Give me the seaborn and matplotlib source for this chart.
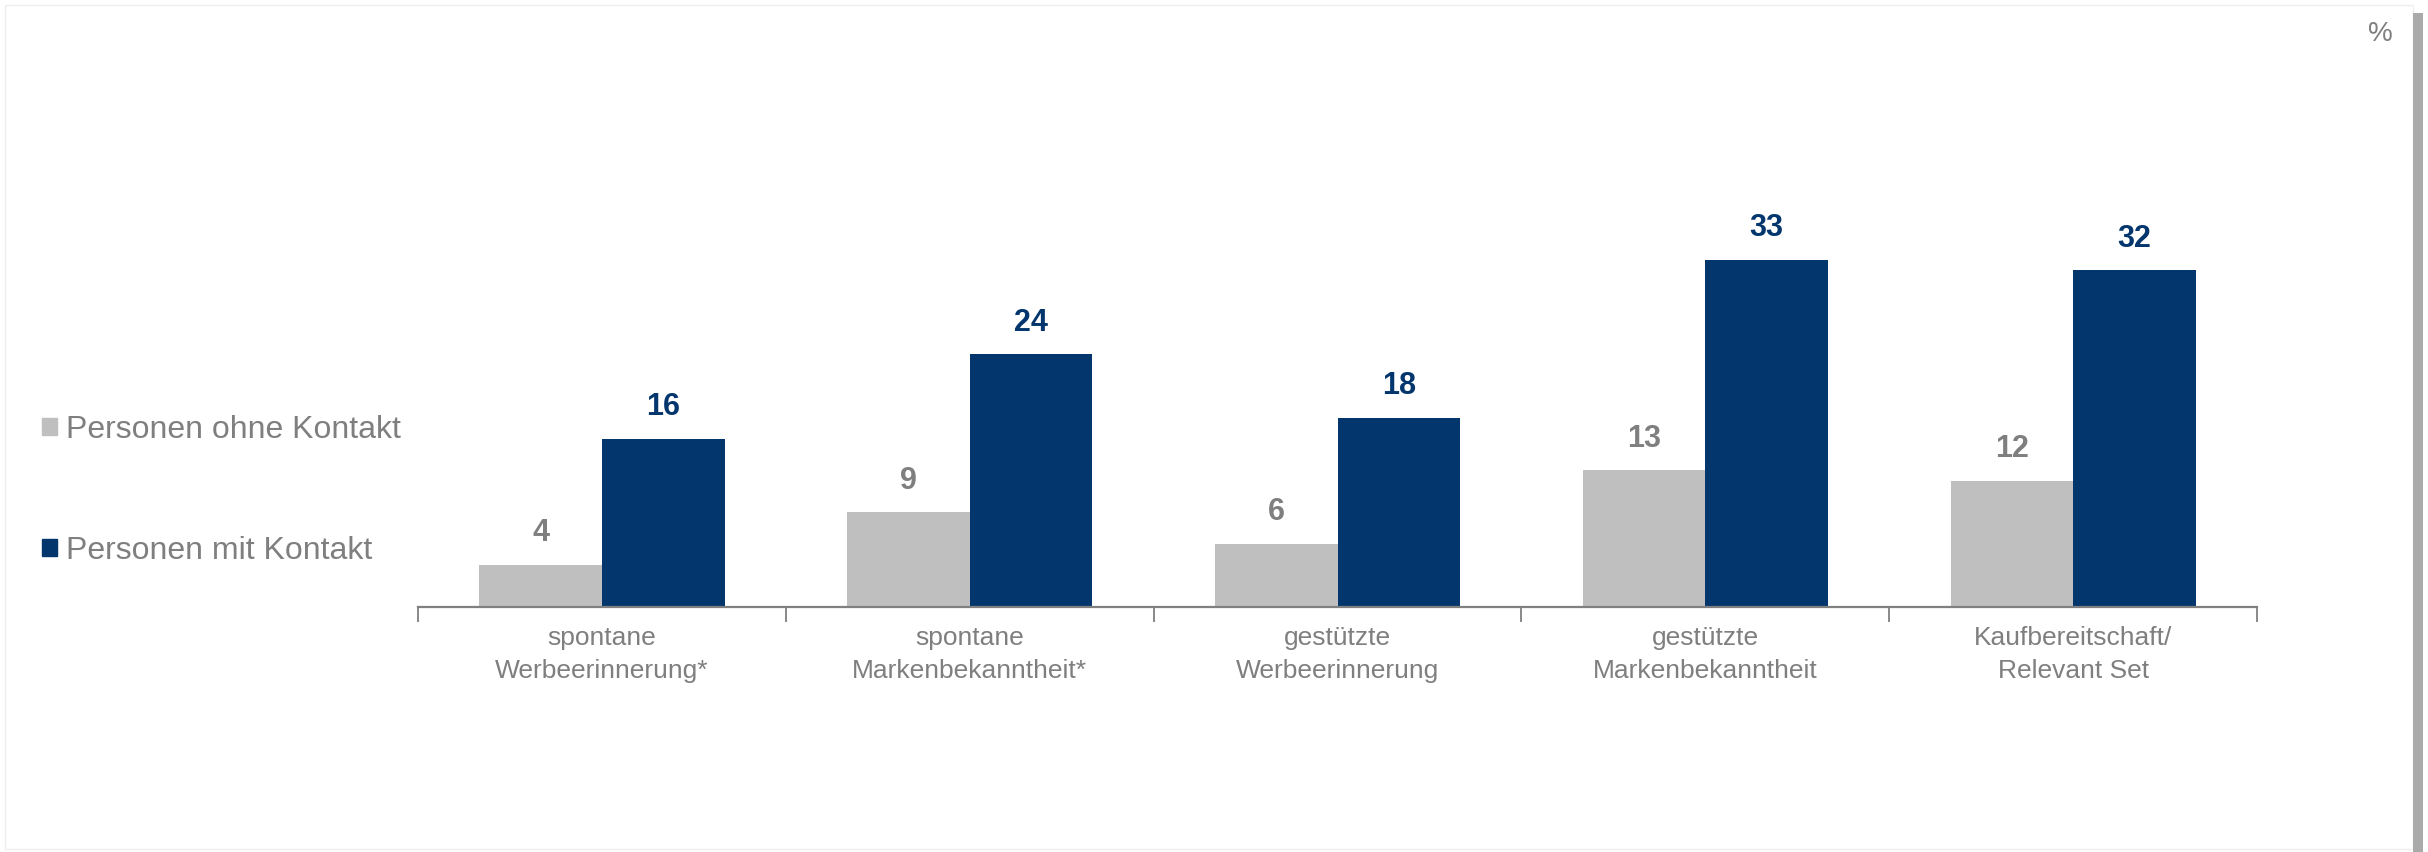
import pandas as pd
import matplotlib.pyplot as plt
import seaborn as sns
from matplotlib.patches import Rectangle

# chart values
kategorien = ['spontane\nWerbeerinnerung*', 'spontane\nMarkenbekanntheit*',
              'gestützte\nWerbeerinnerung', 'gestützte\nMarkenbekanntheit',
              'Kaufbereitschaft/\nRelevant Set']
ohne_kontakt = [4, 9, 6, 13, 12]
mit_kontakt = [16, 24, 18, 33, 32]
gruppen = ['Personen ohne Kontakt', 'Personen mit Kontakt']

grau = '#BFBFBF'
blau = '#03366D'
text_grau = '#7F7F7F'

df = pd.DataFrame({
    'Kategorie': kategorien * 2,
    'Wert': ohne_kontakt + mit_kontakt,
    'Gruppe': [gruppen[0]] * len(kategorien) + [gruppen[1]] * len(kategorien),
})

sns.set_style('white')
plt.rcParams['font.family'] = ['Liberation Sans', 'DejaVu Sans']

fig = plt.figure(figsize=(24.28, 8.52), dpi=100)
ax = fig.add_axes([0.1722, 0.2876, 0.7574, 0.6174])

sns.barplot(data=df, x='Kategorie', y='Wert', hue='Gruppe', order=kategorien,
            hue_order=gruppen, palette=[grau, blau], width=0.667, gap=0,
            saturation=1, linewidth=0, ax=ax, legend=False)

# value labels
for cont, farbe in zip(ax.containers, [text_grau, blau]):
    ax.bar_label(cont, fmt='%d', padding=12, fontsize=22, fontweight='bold', color=farbe)

ax.set_xlim(-0.5, len(kategorien) - 0.5)
ax.set_ylim(0, 50)
ax.set_xlabel('')
ax.set_ylabel('')
ax.set_yticks([])

# ticks at category borders, labels at centers
ax.set_xticks([i - 0.5 for i in range(len(kategorien) + 1)])
ax.set_xticklabels([])
ax.set_xticks(range(len(kategorien)), minor=True)
ax.set_xticklabels(kategorien, minor=True, fontsize=19, color=text_grau, linespacing=1.45)
ax.tick_params(axis='x', which='major', direction='out', length=11, width=1.3,
               color='#808080', bottom=True)
ax.tick_params(axis='x', which='minor', length=0, pad=14)

for s in ['top', 'right', 'left']:
    ax.spines[s].set_visible(False)
ax.spines['bottom'].set_color('#808080')
ax.spines['bottom'].set_linewidth(1.6)

# legend on the left
handles = [Rectangle((0, 0), 1, 1, color=grau), Rectangle((0, 0), 1, 1, color=blau)]
fig.legend(handles, gruppen, loc='upper left', bbox_to_anchor=(0.0055, 0.547),
           frameon=False, fontsize=23, labelcolor=text_grau, handlelength=0.46,
           handleheight=0.46, handletextpad=0.3, labelspacing=2.85)

fig.text(0.9805, 0.96, '%', fontsize=20, color=text_grau, ha='center', va='center')

# page frame with shadow on the right
fig.patches.append(Rectangle((0.002, 0.004), 0.992, 0.99, transform=fig.transFigure,
                             fill=False, edgecolor='#EEEEEE', linewidth=1))
fig.patches.append(Rectangle((0.994, 0.0), 0.004, 0.985, transform=fig.transFigure,
                             facecolor='#AAAAAA', edgecolor='none'))

fig.savefig('out.png', dpi=100, facecolor='white')
